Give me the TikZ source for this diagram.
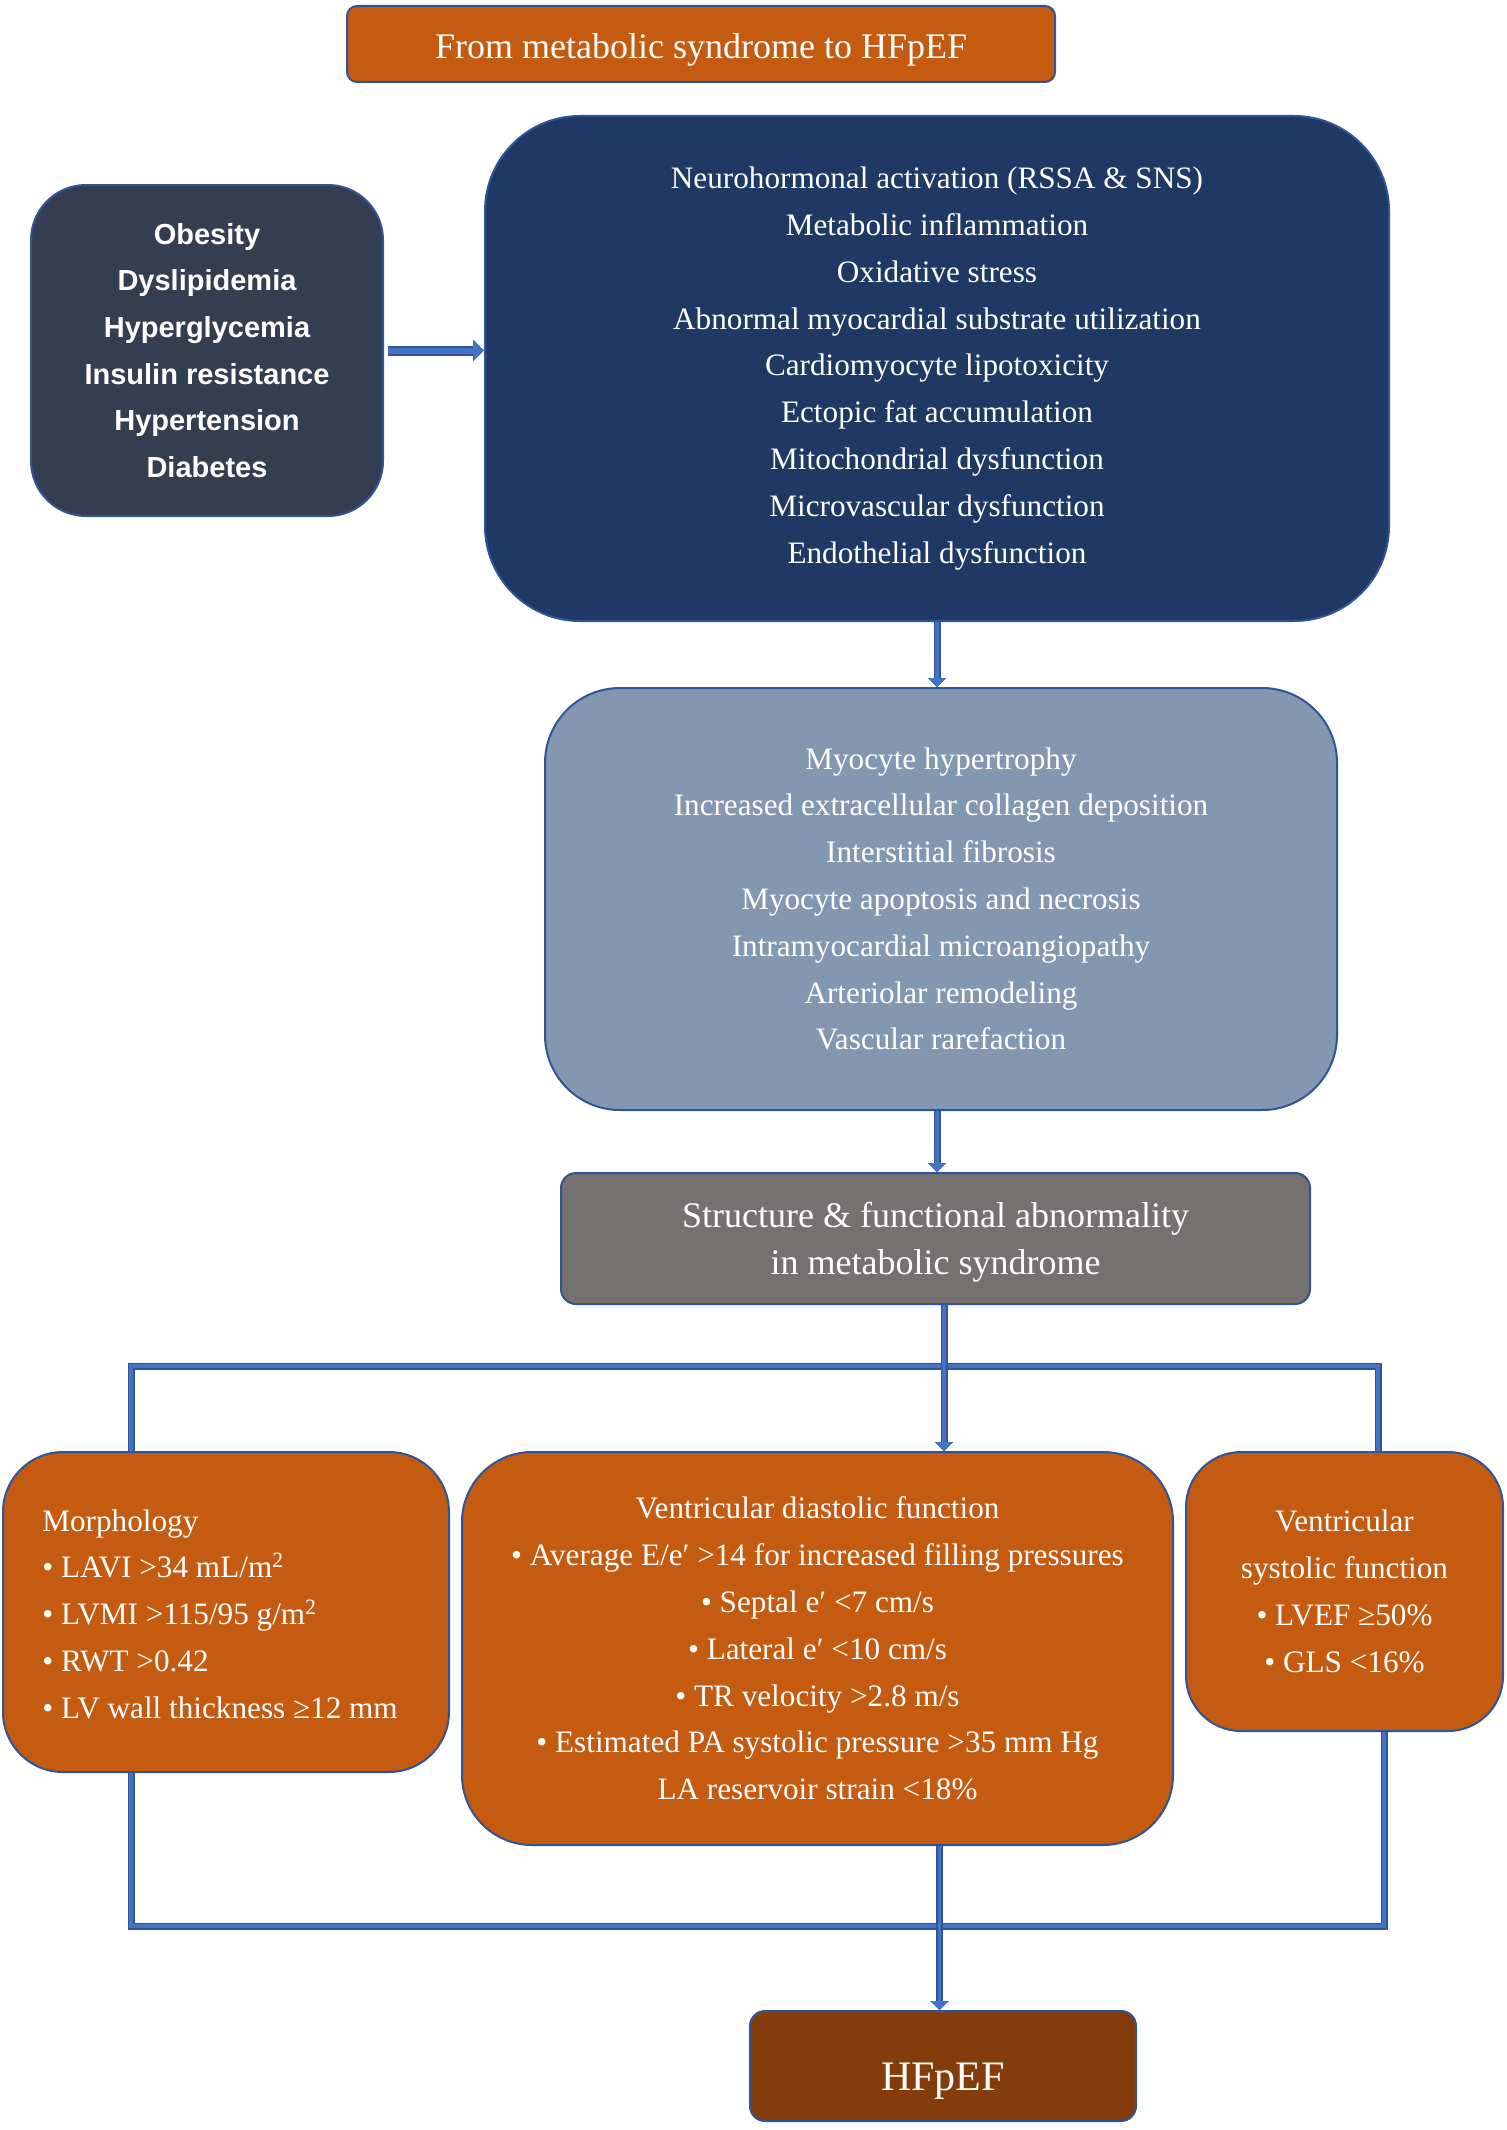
\documentclass[tikz,border=0pt]{standalone}
\usepackage{fontspec}
\setmainfont{Liberation Serif}
\newfontfamily\riskfont{Liberation Sans}
\usetikzlibrary{arrows.meta}
\definecolor{cOrange}{HTML}{C55A11}
\definecolor{cSlate}{HTML}{333F50}
\definecolor{cNavy}{HTML}{1F3864}
\definecolor{cSteel}{HTML}{8497B0}
\definecolor{cGray}{HTML}{767171}
\definecolor{cBrown}{HTML}{843C0C}
\definecolor{cEdge}{HTML}{2F5597}
\definecolor{cLine}{HTML}{4472C4}
\begin{document}
\begin{tikzpicture}[x=0.5pt,y=-0.5pt,
  box/.style={draw=cEdge, line width=1pt, text=white, align=center, inner sep=0pt},
  body/.style={font=\fontsize{15.6}{23.4}\selectfont},
  conn/.style={draw=cEdge, line width=3.5pt, postaction={draw=cLine, line width=1.8pt}},
  tipend/.style={-{Triangle[width=9pt,length=4.5pt]}},
]
\useasboundingbox (0,0) rectangle (1506,2130);

\node[box, fill=cOrange, rounded corners=5pt, minimum width=354pt, minimum height=38pt] (title) at (701,44) {};
\node[text=white, inner sep=0pt, font=\fontsize{18}{23}\selectfont] (titlet) at (701,50) {From metabolic syndrome to HFpEF};

\node[box, fill=cSlate, rounded corners=27.5pt, minimum width=176pt, minimum height=165.5pt,
      font=\riskfont\bfseries\fontsize{14.5}{23.35}\selectfont] (risk) at (207,350.5)
  {Obesity\\Dyslipidemia\\Hyperglycemia\\Insulin resistance\\Hypertension\\Diabetes};

\node[box, body, fill=cNavy, rounded corners=47.5pt, minimum width=452pt, minimum height=252.5pt] (mech) at (937,368.5)
  {Neurohormonal activation (RSSA \& SNS)\\Metabolic inflammation\\Oxidative stress\\Abnormal myocardial substrate utilization\\Cardiomyocyte lipotoxicity\\Ectopic fat accumulation\\Mitochondrial dysfunction\\Microvascular dysfunction\\Endothelial dysfunction};

\node[box, body, fill=cSteel, rounded corners=37.5pt, minimum width=396pt, minimum height=211pt] (remod) at (941,899)
  {Myocyte hypertrophy\\Increased extracellular collagen deposition\\Interstitial fibrosis\\Myocyte apoptosis and necrosis\\Intramyocardial microangiopathy\\Arteriolar remodeling\\Vascular rarefaction};

\node[box, fill=cGray, rounded corners=7.5pt, minimum width=374.5pt, minimum height=65.5pt] (abn) at (935.5,1238.5) {};
\node[text=white, inner sep=0pt, align=center, font=\fontsize{18}{23.2}\selectfont] (abnt) at (935.5,1242)
  {Structure \& functional abnormality\\in metabolic syndrome};

\node[box, fill=cOrange, rounded corners=30pt, minimum width=223pt, minimum height=160pt] (morph) at (226,1612) {};
\node[body, text=white, inner sep=0pt, align=left, anchor=west] (morpht) at (42,1614)
  {Morphology\\• LAVI >34 mL/m\textsuperscript{2}\\• LVMI >115/95 g/m\textsuperscript{2}\\• RWT >0.42\\• LV wall thickness ≥12 mm};

\node[box, body, fill=cOrange, rounded corners=35pt, minimum width=355.5pt, minimum height=196.5pt] (dia) at (817.5,1648.5)
  {Ventricular diastolic function\\• Average E/e′ >14 for increased filling pressures\\• Septal e′ <7 cm/s\\• Lateral e′ <10 cm/s\\• TR velocity >2.8 m/s\\• Estimated PA systolic pressure >35 mm Hg\\LA reservoir strain <18\%};

\node[box, body, fill=cOrange, rounded corners=27.5pt, minimum width=158.5pt, minimum height=139.5pt] (sys) at (1344.5,1591.5)
  {Ventricular\\systolic function\\• LVEF ≥50\%\\• GLS <16\%};

\node[box, fill=cBrown, rounded corners=7.5pt, minimum width=193pt, minimum height=55pt] (hf) at (943,2066) {};
\node[text=white, inner sep=0pt, font=\fontsize{21}{25}\selectfont, anchor=base] (hft) at (943,2090) {HFpEF};

% connectors
\draw[draw=cEdge, line width=5pt, postaction={draw=cLine, line width=3pt},
      -{Triangle[width=10.5pt,length=5.5pt]}] ([xshift=2pt]risk.east) -- (mech.west |- risk.east);
\draw[conn, tipend] (mech.south) -- (mech.south |- remod.north);
\draw[conn, tipend] (mech.south |- remod.south) -- (mech.south |- abn.north);

\coordinate (jl) at (131,1366);
\coordinate (jr) at (1378,1366);
\coordinate (jc) at (944,1366);
\draw[conn] (morph.north -| jl) -- (jl) -- (jr) -- (sys.north -| jr);
\draw[conn, tipend] (abn.south -| jc) -- (dia.north -| jc);

\coordinate (bl) at (131,1926);
\coordinate (br) at (1384,1926);
\coordinate (bc) at (939.5,1926);
\draw[conn] (morph.south -| bl) -- (bl) -- (br) -- (sys.south -| br);
\draw[conn, tipend] (dia.south -| bc) -- (hf.north -| bc);
\end{tikzpicture}
\end{document}
